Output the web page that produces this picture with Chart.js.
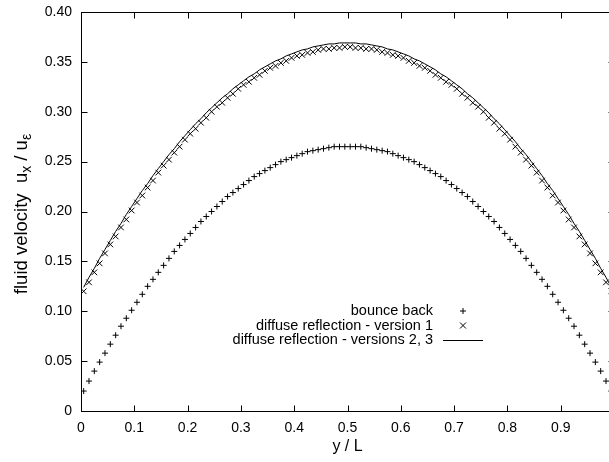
<!DOCTYPE html>
<html>
<head>
<meta charset="utf-8">
<script src="https://cdn.jsdelivr.net/npm/chart.js@4/dist/chart.umd.min.js"></script>
<style>
  html, body { margin: 0; padding: 0; background: #fff; overflow: hidden; }
  #wrap { position: relative; width: 620px; height: 462px; }
  canvas { display: block; }
</style>
</head>
<body>
<div id="wrap"><canvas id="c" width="620" height="462"></canvas></div>
<script>
// ---------- data ----------
const yOverL = [
  0.005,0.015,0.025,0.035,0.045,0.055,0.065,0.075,0.085,0.095,
  0.105,0.115,0.125,0.135,0.145,0.155,0.165,0.175,0.185,0.195,
  0.205,0.215,0.225,0.235,0.245,0.255,0.265,0.275,0.285,0.295,
  0.305,0.315,0.325,0.335,0.345,0.355,0.365,0.375,0.385,0.395,
  0.405,0.415,0.425,0.435,0.445,0.455,0.465,0.475,0.485,0.495,
  0.505,0.515,0.525,0.535,0.545,0.555,0.565,0.575,0.585,0.595,
  0.605,0.615,0.625,0.635,0.645,0.655,0.665,0.675,0.685,0.695,
  0.705,0.715,0.725,0.735,0.745,0.755,0.765,0.775,0.785,0.795,
  0.805,0.815,0.825,0.835,0.845,0.855,0.865,0.875,0.885,0.895,
  0.905,0.915,0.925,0.935,0.945,0.955,0.965,0.975,0.985,0.995
];
const bounceBack = [
  0.020,0.030,0.040,0.049,0.058,0.067,0.076,0.085,0.093,0.101,
  0.109,0.117,0.125,0.132,0.139,0.146,0.153,0.160,0.166,0.172,
  0.178,0.184,0.190,0.195,0.200,0.205,0.210,0.215,0.219,0.223,
  0.227,0.231,0.235,0.238,0.241,0.244,0.247,0.250,0.252,0.254,
  0.256,0.258,0.260,0.261,0.262,0.263,0.264,0.265,0.265,0.265,
  0.265,0.265,0.265,0.264,0.263,0.262,0.261,0.260,0.258,0.256,
  0.254,0.252,0.250,0.247,0.244,0.241,0.238,0.235,0.231,0.227,
  0.223,0.219,0.215,0.210,0.205,0.200,0.195,0.190,0.184,0.178,
  0.172,0.166,0.160,0.153,0.146,0.139,0.132,0.125,0.117,0.109,
  0.101,0.093,0.085,0.076,0.067,0.058,0.049,0.040,0.030,0.020
];
const diffuseV1 = [
  0.120,0.129,0.139,0.148,0.158,0.167,0.175,0.184,0.192,0.201,
  0.209,0.216,0.224,0.231,0.239,0.246,0.252,0.259,0.265,0.272,
  0.278,0.283,0.289,0.294,0.300,0.305,0.309,0.314,0.318,0.323,
  0.327,0.330,0.334,0.337,0.341,0.344,0.346,0.349,0.351,0.354,
  0.356,0.357,0.359,0.360,0.362,0.363,0.363,0.364,0.364,0.365,
  0.365,0.364,0.364,0.363,0.363,0.362,0.360,0.359,0.357,0.356,
  0.354,0.351,0.349,0.346,0.344,0.341,0.337,0.334,0.330,0.327,
  0.323,0.318,0.314,0.309,0.305,0.300,0.294,0.289,0.283,0.278,
  0.272,0.265,0.259,0.252,0.246,0.239,0.231,0.224,0.216,0.209,
  0.201,0.192,0.184,0.175,0.167,0.158,0.148,0.139,0.129,0.120
];
const diffuseV23 = [
  0.124,0.134,0.143,0.153,0.162,0.171,0.180,0.188,0.197,0.205,
  0.213,0.221,0.228,0.236,0.243,0.250,0.257,0.263,0.270,0.276,
  0.282,0.288,0.293,0.299,0.304,0.309,0.314,0.318,0.323,0.327,
  0.331,0.335,0.338,0.342,0.345,0.348,0.351,0.353,0.356,0.358,
  0.360,0.362,0.363,0.365,0.366,0.367,0.368,0.368,0.369,0.369,
  0.369,0.369,0.368,0.368,0.367,0.366,0.365,0.363,0.362,0.360,
  0.358,0.356,0.353,0.351,0.348,0.345,0.342,0.338,0.335,0.331,
  0.327,0.323,0.318,0.314,0.309,0.304,0.299,0.293,0.288,0.282,
  0.276,0.270,0.263,0.257,0.250,0.243,0.236,0.228,0.221,0.213,
  0.205,0.197,0.188,0.180,0.171,0.162,0.153,0.143,0.134,0.124
];
const seriesLabels = ['bounce back', 'diffuse reflection - version 1', 'diffuse reflection - versions 2, 3'];
const xTickValues = [0, 0.1, 0.2, 0.3, 0.4, 0.5, 0.6, 0.7, 0.8, 0.9, 1.0];
const xTickLabels = ['0', '0.1', '0.2', '0.3', '0.4', '0.5', '0.6', '0.7', '0.8', '0.9', ''];
const yTickValues = [0, 0.05, 0.10, 0.15, 0.20, 0.25, 0.30, 0.35, 0.40];
const yTickLabels = ['0', '0.05', '0.10', '0.15', '0.20', '0.25', '0.30', '0.35', '0.40'];
const xTitle = 'y / L';
const yTitleParts = [['fluid velocity  u', false], ['x', true], [' / u', false], ['ε', true]];

// ---------- chart ----------
const FONT = '"Liberation Sans", Arial, Helvetica, sans-serif';
const toPts = arr => arr.map((v, i) => ({ x: yOverL[i], y: v }));

const framePlugin = {
  id: 'frame',
  afterDraw(chart) {
    const ctx = chart.ctx, a = chart.chartArea;
    const xs = chart.scales.x, ys = chart.scales.y;
    const L = Math.round(a.left) + 0.5, R = Math.round(a.right) + 0.5;
    const T = Math.round(a.top) + 0.5, B = Math.round(a.bottom) + 0.5;
    ctx.save();
    ctx.strokeStyle = '#000';
    ctx.lineWidth = 1;
    ctx.strokeRect(L, T, R - L, B - T);
    const tl = 6;
    ctx.beginPath();
    xTickValues.forEach(v => {
      const px = Math.round(xs.getPixelForValue(v)) + 0.5;
      ctx.moveTo(px, B); ctx.lineTo(px, B - tl);
      ctx.moveTo(px, T); ctx.lineTo(px, T + tl);
    });
    yTickValues.forEach(v => {
      const py = Math.round(ys.getPixelForValue(v)) + 0.5;
      ctx.moveTo(L, py); ctx.lineTo(L + tl, py);
      ctx.moveTo(R, py); ctx.lineTo(R - tl, py);
    });
    ctx.stroke();

    // axis titles
    ctx.fillStyle = '#000';
    ctx.font = '16px ' + FONT;
    ctx.textAlign = 'center';
    ctx.textBaseline = 'middle';
    ctx.fillText(xTitle, (a.left + a.right) / 2, 447);

    // y title with subscripts (rotated)
    const big = '18.5px ' + FONT, small = '14px ' + FONT;
    let total = 0;
    yTitleParts.forEach(([t, sub]) => { ctx.font = sub ? small : big; total += ctx.measureText(t).width; });
    ctx.translate(22, 214);
    ctx.rotate(-Math.PI / 2);
    ctx.textAlign = 'left';
    ctx.textBaseline = 'middle';
    let xx = -total / 2;
    yTitleParts.forEach(([t, sub]) => {
      ctx.font = sub ? small : big;
      ctx.fillText(t, xx, sub ? 5 : 0);
      xx += ctx.measureText(t).width;
    });
    ctx.restore();

    // legend (gnuplot style)
    ctx.save();
    ctx.font = '14.5px ' + FONT;
    ctx.fillStyle = '#000';
    ctx.textAlign = 'right';
    ctx.textBaseline = 'middle';
    const rowsY = [311, 325.5, 340];
    chart.data.datasets.forEach((ds, i) => {
      const y = rowsY[i];
      ctx.fillText(ds.label, 433, y);
      ctx.strokeStyle = '#000';
      ctx.lineWidth = 1;
      ctx.beginPath();
      if (ds.showLine) {
        ctx.moveTo(443, y + 0.5); ctx.lineTo(483, y + 0.5);
      } else if (ds.pointStyle === 'cross') {
        ctx.moveTo(460, y); ctx.lineTo(466, y);
        ctx.moveTo(463, y - 3); ctx.lineTo(463, y + 3);
      } else {
        ctx.moveTo(460, y - 3); ctx.lineTo(466, y + 3);
        ctx.moveTo(460, y + 3); ctx.lineTo(466, y - 3);
      }
      ctx.stroke();
    });
    ctx.restore();
  }
};

new Chart(document.getElementById('c'), {
  type: 'scatter',
  data: {
    datasets: [
      { label: seriesLabels[0], data: toPts(bounceBack), pointStyle: 'cross', pointRadius: 3,
        borderColor: '#000', backgroundColor: '#000', pointBorderWidth: 1, showLine: false },
      { label: seriesLabels[1], data: toPts(diffuseV1), pointStyle: 'crossRot', pointRadius: 4,
        borderColor: '#000', backgroundColor: '#000', pointBorderWidth: 1, showLine: false },
      { label: seriesLabels[2], data: toPts(diffuseV23), pointRadius: 0, showLine: true,
        borderColor: '#000', borderWidth: 1, tension: 0 }
    ]
  },
  options: {
    responsive: false,
    maintainAspectRatio: false,
    animation: false,
    devicePixelRatio: 1,
    layout: { padding: { left: 0, top: 12, right: 6, bottom: 0 } },
    plugins: { legend: { display: false }, tooltip: { enabled: false } },
    scales: {
      x: {
        type: 'linear', min: 0, max: 1,
        afterBuildTicks: s => { s.ticks = xTickValues.map(v => ({ value: v })); },
        afterFit: s => { s.height = 51; s.paddingRight = 0; s.paddingLeft = 0; },
        grid: { display: false, drawTicks: false },
        border: { display: false },
        ticks: {
          padding: 9, color: '#000', maxRotation: 0, autoSkip: false,
          font: { family: FONT, size: 14 },
          callback: (v, i) => xTickLabels[i]
        }
      },
      y: {
        type: 'linear', min: 0, max: 0.4,
        afterBuildTicks: s => { s.ticks = yTickValues.map(v => ({ value: v })); },
        afterFit: s => { s.width = 81; s.paddingTop = 0; s.paddingBottom = 0; },
        grid: { display: false, drawTicks: false },
        border: { display: false },
        ticks: {
          padding: 9, color: '#000', autoSkip: false,
          font: { family: FONT, size: 14 },
          callback: (v, i) => yTickLabels[i]
        }
      }
    }
  },
  plugins: [framePlugin]
});
</script>
</body>
</html>
